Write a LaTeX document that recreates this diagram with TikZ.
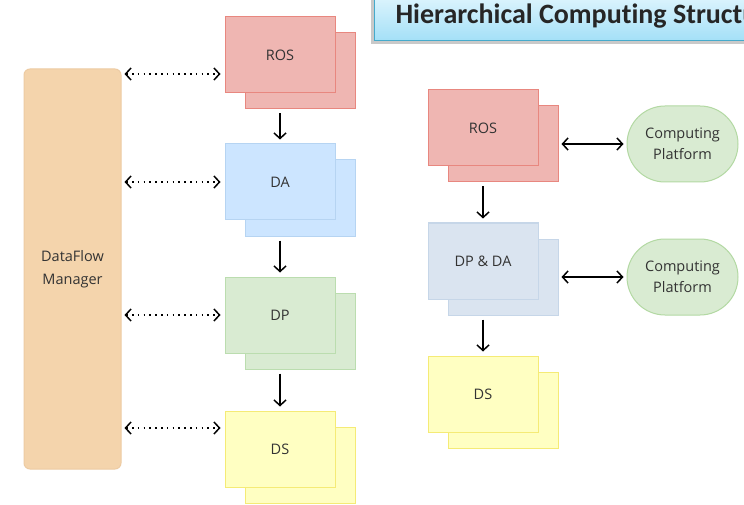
\documentclass[tikz,border=0pt]{standalone}
\usepackage{fontspec}
\setmainfont{Open Sans}
\newfontfamily\titlefont{Carlito}[Ligatures=NoCommon]
\usetikzlibrary{arrows.meta,shapes.misc,shadows}

\definecolor{txt}{HTML}{333333}
\definecolor{rosfill}{HTML}{EFB6B2}\definecolor{rosline}{HTML}{E8877F}
\definecolor{dafill}{HTML}{CCE5FF}\definecolor{daline}{HTML}{B6D4F2}
\definecolor{dpfill}{HTML}{D9EBD2}\definecolor{dpline}{HTML}{BBDDAF}
\definecolor{dsfill}{HTML}{FFFFC2}\definecolor{dsline}{HTML}{F5EB76}
\definecolor{ddfill}{HTML}{DAE4F0}\definecolor{ddline}{HTML}{C6D6E8}
\definecolor{cpfill}{HTML}{D9EBD2}\definecolor{cpline}{HTML}{B3D9A3}
\definecolor{dffill}{HTML}{F4D4AC}\definecolor{dfline}{HTML}{EDCBA3}
\definecolor{titletop}{HTML}{E2F6FE}\definecolor{titlebot}{HTML}{A4E0F7}
\definecolor{titleline}{HTML}{45AACB}

\tikzset{
  card/.style={draw, line width=1pt, minimum width=110pt, minimum height=76pt,
    inner sep=0pt, font=\fontsize{14.5}{17}\selectfont, text=txt},
  ros/.style={card, fill=rosfill, draw=rosline},
  da/.style={card, fill=dafill, draw=daline},
  dp/.style={card, fill=dpfill, draw=dpline},
  ds/.style={card, fill=dsfill, draw=dsline},
  dd/.style={card, fill=ddfill, draw=ddline},
  platform/.style={rounded rectangle, draw=cpline, fill=cpfill, line width=1pt,
    minimum width=111pt, minimum height=76pt, inner sep=0pt, align=center,
    font=\fontsize{14.5}{21}\selectfont, text=txt},
  manager/.style={rectangle, rounded corners=6pt, draw=dfline, fill=dffill,
    line width=1pt, minimum width=97pt, minimum height=400pt, align=center,
    font=\fontsize{14.5}{23}\selectfont, text=txt},
  arr/.style={-{Straight Barb[length=5.5pt,width=12pt]}, line width=1.5pt, black},
  darr/.style={{Straight Barb[length=5.5pt,width=12pt]}-{Straight Barb[length=5.5pt,width=12pt]},
    line width=1.5pt, black},
  dotarr/.style={darr, dash pattern=on 1.6pt off 4.2pt}
}

\begin{document}
\begin{tikzpicture}[x=1pt,y=-1pt]
\useasboundingbox (0,0) rectangle (744,505);
\fill[white] (0,0) rectangle (744,505);

% title banner, running off the right edge
\begin{scope}
\clip (0,0) rectangle (744,505);
\fill[black!35, opacity=0.6] (371,-5) rectangle (770,44);
\node[draw=titleline, line width=1pt, top color=titletop, bottom color=titlebot,
  minimum width=400pt, minimum height=48pt, anchor=south west, inner sep=0pt]
  (banner) at (374,41) {};
\node[anchor=base west, font=\titlefont\bfseries\fontsize{28}{30}\selectfont,
  text=black!85] (title) at (392,24) {Hierarchical Computing Structure};
\end{scope}

% left column: manager and stacked stages
\node[manager] (df) at (72.5,269) {DataFlow\\Manager};

\node[ros] (rosb) at (300,71) {};
\node[ros] (ros)  at (280,55) {ROS};
\node[da]  (dab)  at (300,198) {};
\node[da]  (da)   at (280,182) {DA};
\node[dp]  (dpb)  at (300,331) {};
\node[dp]  (dp)   at (280,315) {DP};
\node[ds]  (dsb)  at (300,465) {};
\node[ds]  (ds)   at (280,449) {DS};

\draw[arr] ([yshift=-4pt]ros.center |- rosb.south) -- ([yshift=4pt]da.north);
\draw[arr] ([yshift=-4pt]da.center |- dab.south) -- ([yshift=4pt]dp.north);
\draw[arr] ([yshift=-4pt]dp.center |- dpb.south) -- ([yshift=4pt]ds.north);

\draw[dotarr] ([xshift=3pt]df.east |- 0,74)  -- ([xshift=-4pt]ros.west |- 0,74);
\draw[dotarr] ([xshift=3pt]df.east |- 0,182) -- ([xshift=-4pt]da.west |- 0,182);
\draw[dotarr] ([xshift=3pt]df.east |- 0,315) -- ([xshift=-4pt]dp.west |- 0,315);
\draw[dotarr] ([xshift=3pt]df.east |- 0,428) -- ([xshift=-4pt]ds.west |- 0,428);

% right column: merged stages with computing platforms
\node[ros] (ros2b) at (503,144) {};
\node[ros] (ros2)  at (483,128) {ROS};
\node[dd]  (ddb)   at (503,277) {};
\node[dd]  (dd)    at (483,261) {DP \& DA};
\node[ds]  (ds2b)  at (503,410) {};
\node[ds]  (ds2)   at (483,394) {DS};

\draw[arr] ([yshift=-4pt]ros2.center |- ros2b.south) -- ([yshift=4pt]dd.north);
\draw[arr] ([yshift=-4pt]dd.center |- ddb.south) -- ([yshift=4pt]ds2.north);

\node[platform] (cp1) at (682.5,144) {Computing\\Platform};
\node[platform] (cp2) at (682.5,277) {Computing\\Platform};

\draw[darr] ([xshift=3pt]ros2b.east) -- ([xshift=-3pt]cp1.west);
\draw[darr] ([xshift=3pt]ddb.east) -- ([xshift=-3pt]cp2.west);
\end{tikzpicture}
\end{document}
